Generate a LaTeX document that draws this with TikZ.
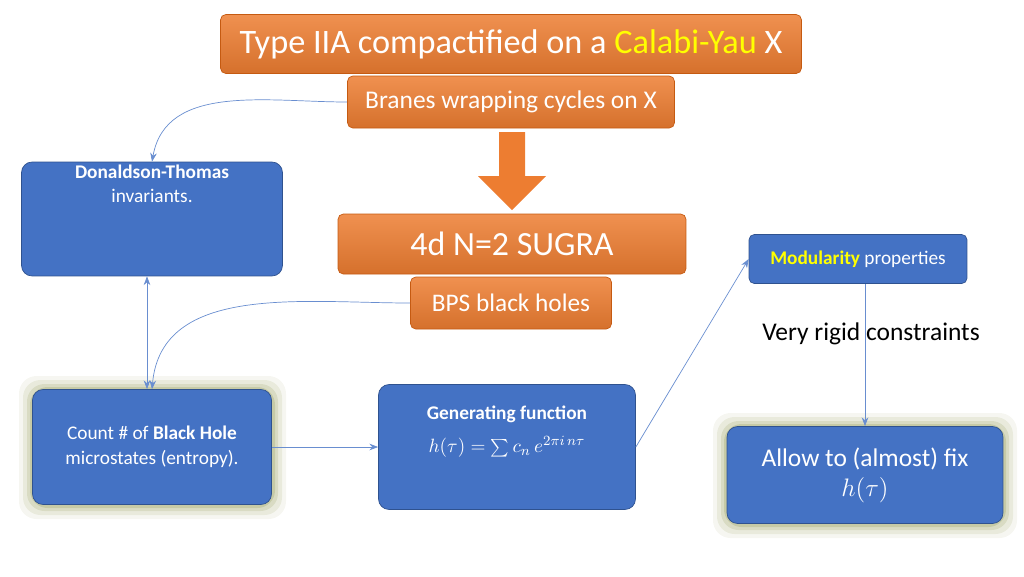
\documentclass[tikz,border=0pt]{standalone}
\usepackage{fontspec}
\setmainfont{Carlito}
\usetikzlibrary{arrows.meta}
\definecolor{boxblue}{HTML}{4472C4}
\definecolor{edgeblue}{HTML}{2F528F}
\definecolor{boxorange}{HTML}{ED7D31}
\definecolor{edgeorange}{HTML}{C55A11}
\definecolor{glowgreen}{HTML}{B4B98A}
\definecolor{calabi}{HTML}{FFFF00}
\tikzset{
  orangebox/.style={draw=edgeorange,top color=boxorange!85!white,bottom color=boxorange!90!black,text=white,rounded corners=3pt,inner sep=0pt},
  bluebox/.style={draw=edgeblue,fill=boxblue,text=white,rounded corners=6pt,inner sep=0pt,align=center},
  link/.style={draw=boxblue!80,thin,-{Stealth[length=5pt]}},
}
\begin{document}
\begin{tikzpicture}[x=0.02cm,y=-0.02cm]
\useasboundingbox (0,0) rectangle (1024,576);
% glows
\foreach \w/\o in {14/0.12,10/0.2,6/0.3,3/0.5}{
  \fill[glowgreen,opacity=\o,rounded corners=10pt] (33-\w,390-\w) rectangle (272+\w,505+\w);
  \fill[glowgreen,opacity=\o,rounded corners=10pt] (727-\w,427-\w) rectangle (1003+\w,524+\w);
}
% orange column
\node[orangebox,minimum width=11.62cm,minimum height=1.18cm,font=\fontsize{19.5}{22}\selectfont] (title) at (511,44)
  {Type IIA compactified on a \textcolor{calabi}{Calabi-Yau} X};
\node[orangebox,minimum width=6.54cm,minimum height=1.04cm,font=\fontsize{14.5}{16}\selectfont] (branes) at (511,102)
  {Branes wrapping cycles on X};
\node[orangebox,minimum width=6.96cm,minimum height=1.2cm,font=\fontsize{19.3}{21}\selectfont] (sugra) at (512,244)
  {4d N=2 SUGRA};
\node[orangebox,minimum width=4.02cm,minimum height=1.04cm,font=\fontsize{14.4}{16}\selectfont] (bps) at (511,303)
  {BPS black holes};
\fill[boxorange] (499,132) -- (525,132) -- (525,176) -- (546,176) -- (512,210) -- (478,176) -- (499,176) -- cycle;
% blue boxes
\node[bluebox,minimum width=5.22cm,minimum height=2.28cm,font=\fontsize{11}{14}\selectfont] (dt) at (152,219)
  {\textbf{Donaldson-Thomas}\\invariants.\\[26pt]};
\node[bluebox,minimum width=4.78cm,minimum height=2.3cm,font=\fontsize{11}{14}\selectfont] (count) at (152,447)
  {Count \# of \textbf{Black Hole}\\microstates (entropy).};
\node[bluebox,minimum width=5.14cm,minimum height=2.5cm,font=\fontsize{11}{14}\selectfont] (gen) at (507,447)
  {\textbf{Generating function}\\[5pt] $h(\tau)=\sum c_n\, e^{2\pi i\, n\tau}$\\[6pt]};
\node[bluebox,minimum width=4.36cm,minimum height=0.98cm,rounded corners=3pt,font=\fontsize{11}{13}\selectfont] (mod) at (858,259)
  {\textbf{\textcolor{calabi}{Modularity}} properties};
\node[bluebox,minimum width=5.52cm,minimum height=1.94cm,font=\fontsize{14.5}{17}\selectfont] (allow) at (865,475)
  {Allow to (almost) fix\\$h(\tau)$};
\node[font=\fontsize{14.5}{16}\selectfont] (rigid) at (871,334) {Very rigid constraints};
% connectors
\draw[link] (branes.west) to[out=180,in=80] (dt.north);
\draw[draw=boxblue!80,thin,{Stealth[length=5pt]}-{Stealth[length=5pt]}] ([xshift=-0.1cm]dt.south) -- ([xshift=-0.1cm]count.north);
\draw[link] (bps.west) to[out=180,in=85] (count.north);
\draw[link] (count.east) -- (gen.west);
\draw[link] (gen.east) -- (mod.west);
\draw[link] (mod.south) ++(7,0) coordinate (modout) -- (modout |- allow.north);
\end{tikzpicture}
\end{document}
